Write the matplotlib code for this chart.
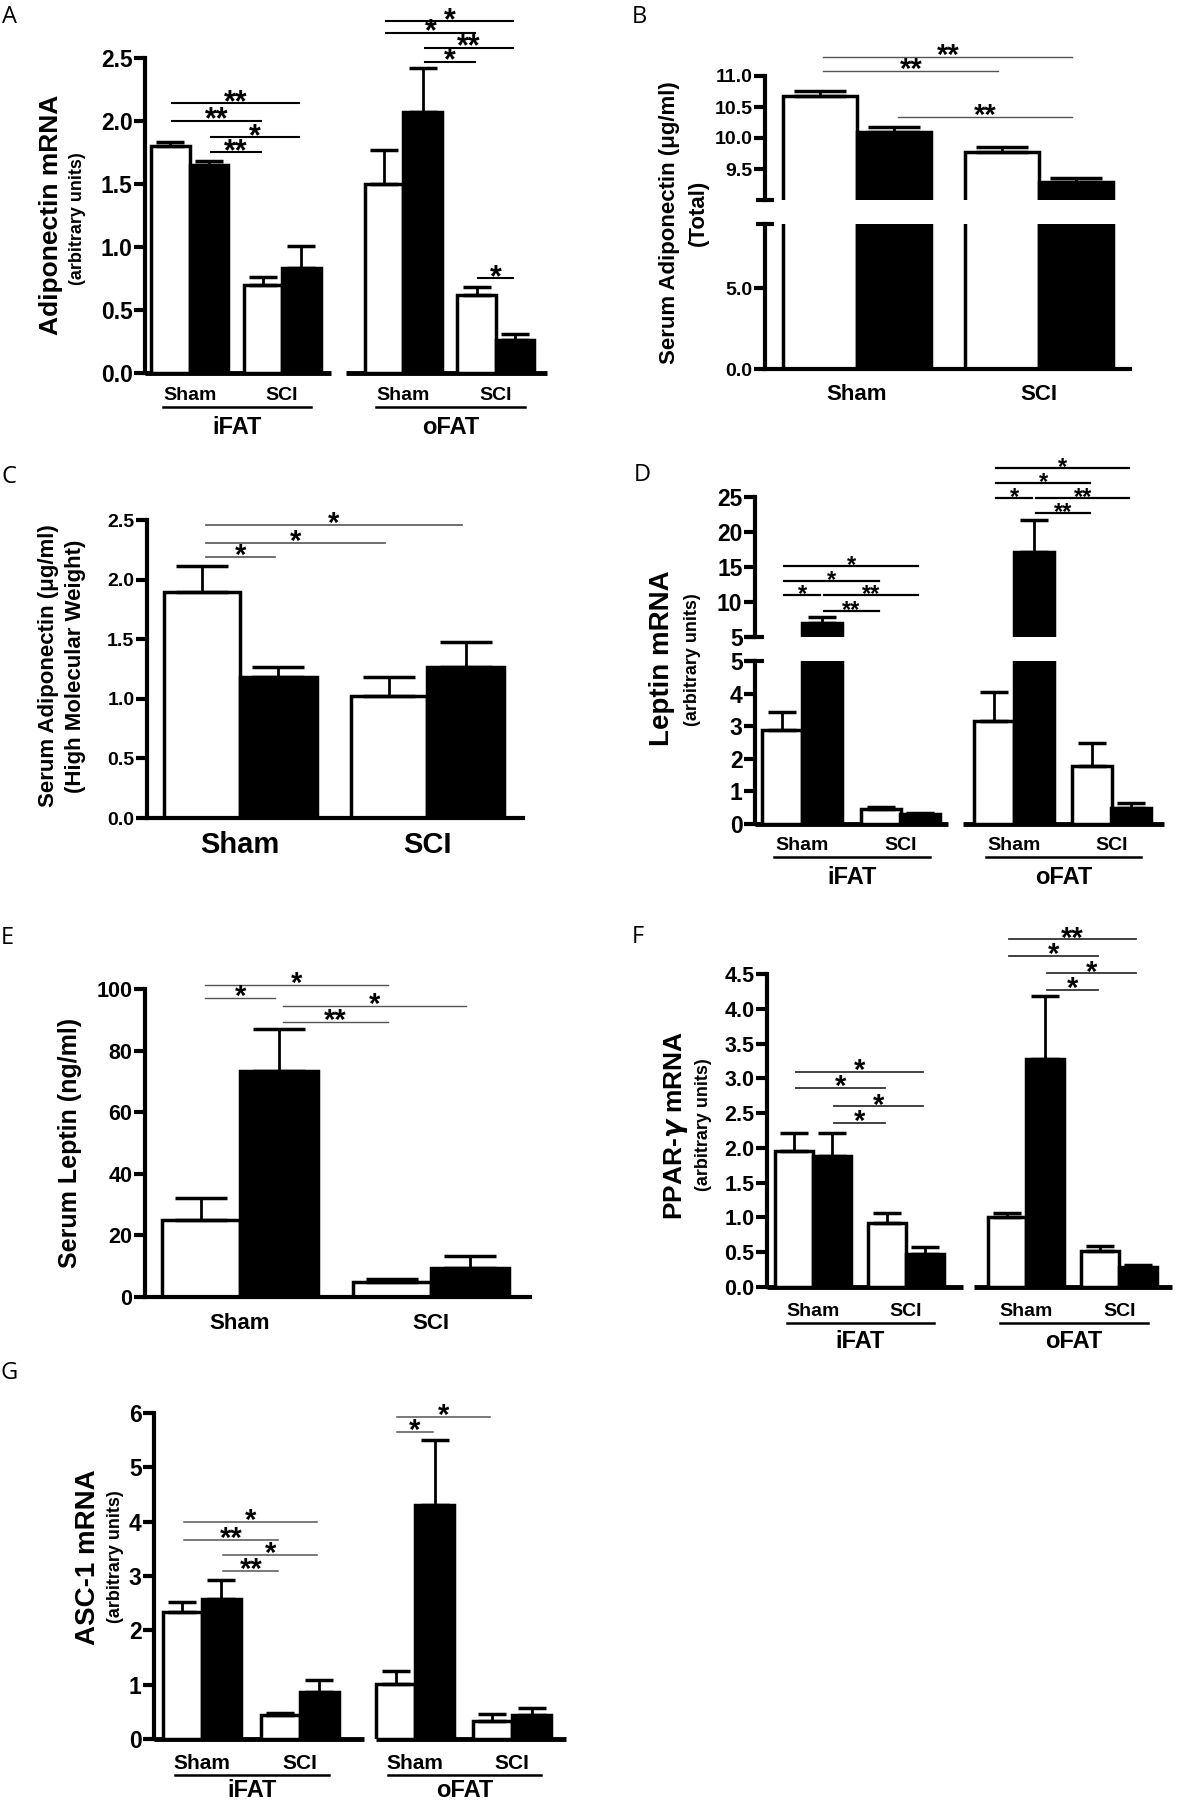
import numpy as np
import matplotlib.pyplot as plt
from matplotlib import transforms

plt.rcParams['font.family'] = ['Liberation Sans', 'DejaVu Sans']
plt.rcParams['font.weight'] = 'bold'
plt.rcParams['mathtext.fontset'] = 'dejavusans'

W, H = 1182, 1801

groups = ['Sham', 'SCI']
tissues = ['iFAT', 'oFAT']

# A: adiponectin mRNA (iFAT sham/sci, oFAT sham/sci; white, black)
a_mean = [1.80, 1.65, 0.70, 0.83, 1.50, 2.07, 0.62, 0.26]
a_top = [1.83, 1.68, 0.76, 1.01, 1.77, 2.42, 0.68, 0.31]
a_sig = [(0, 3, 2.14, '**'), (0, 2, 2.00, '**'), (1, 3, 1.87, '*'), (1, 2, 1.75, '**'),
         (4, 7, 2.79, '*'), (4, 6, 2.70, '*'), (5, 7, 2.58, '**'), (5, 6, 2.47, '*'),
         (6, 7, 0.75, '*')]

# B: serum adiponectin total
b_mean = [10.68, 10.10, 9.78, 9.29]
b_top = [10.75, 10.17, 9.86, 9.36]
b_sig = [(0, 3, 11.31, '**'), (0, 2, 11.08, '**'), (1, 3, 10.34, '**')]

# C: serum adiponectin HMW
c_mean = [1.90, 1.18, 1.02, 1.27]
c_top = [2.11, 1.27, 1.18, 1.48]
c_sig = [(0, 3, 2.46, '*'), (0, 2, 2.31, '*'), (0, 1, 2.19, '*')]

# D: leptin mRNA
d_mean = [2.88, 7.0, 0.46, 0.30, 3.16, 17.1, 1.78, 0.49]
d_top = [3.44, 7.86, 0.52, 0.34, 4.05, 21.7, 2.48, 0.64]
d_sig = [(0, 3, 15.1, '*'), (0, 2, 13.0, '*'), (0, 1, 11.0, '*'), (1, 3, 11.0, '**'),
         (1, 2, 8.7, '**'), (4, 7, 29.1, '*'), (4, 6, 27.0, '*'), (4, 5, 24.9, '*'),
         (5, 7, 24.9, '**'), (5, 6, 22.7, '**')]

# E: serum leptin
e_mean = [25.0, 73.4, 4.9, 9.4]
e_top = [32.2, 87.0, 5.7, 13.4]
e_sig = [(0, 2, 101.4, '*'), (0, 1, 97.1, '*'), (1, 3, 94.5, '*'), (1, 2, 89.3, '**')]

# F: PPAR-gamma mRNA
f_mean = [1.95, 1.89, 0.92, 0.47, 1.00, 3.28, 0.52, 0.29]
f_top = [2.21, 2.21, 1.06, 0.58, 1.07, 4.18, 0.59, 0.31]
f_sig = [(0, 3, 3.09, '*'), (0, 2, 2.86, '*'), (1, 3, 2.60, '*'), (1, 2, 2.36, '*'),
         (4, 7, 5.0, '**'), (4, 6, 4.76, '*'), (5, 7, 4.51, '*'), (5, 6, 4.27, '*')]

# G: ASC-1 mRNA
g_mean = [2.33, 2.58, 0.44, 0.87, 1.02, 4.31, 0.34, 0.45]
g_top = [2.53, 2.92, 0.47, 1.09, 1.25, 5.50, 0.46, 0.57]
g_sig = [(0, 3, 4.0, '*'), (0, 2, 3.67, '**'), (1, 3, 3.39, '*'), (1, 2, 3.09, '**'),
         (4, 6, 5.93, '*'), (4, 5, 5.65, '*')]

fig = plt.figure(figsize=(W / 100, H / 100), dpi=100)


def add_ax(left, top, right, bottom):
    return fig.add_axes([left / W, 1 - bottom / H, (right - left) / W, (bottom - top) / H])


def style(ax, xlim, ylim, ticks, fmt, fs, segments=None, bottom=True):
    ax.set_xlim(xlim)
    ax.set_ylim(ylim)
    ax.patch.set_visible(False)
    for s in ['top', 'right']:
        ax.spines[s].set_visible(False)
    ax.spines['left'].set_linewidth(3)
    ax.spines['bottom'].set_linewidth(3)
    ax.set_xticks([])
    ax.set_yticks(ticks)
    ax.set_yticklabels([fmt.format(t) for t in ticks])
    ax.tick_params(axis='y', length=8, width=3, pad=1, labelsize=fs)
    if segments or not bottom:
        ax.spines['bottom'].set_visible(False)
    if segments:
        for x0, x1 in segments:
            ax.plot([x0, x1], [ylim[0], ylim[0]], color='k', lw=3.5, clip_on=False,
                    solid_capstyle='butt')


def draw_bars(ax, pos, mean, top, cap):
    colors = ['white', 'black'] * (len(pos) // 2)
    ax.bar(pos, mean, width=1.0, color=colors, edgecolor='k', linewidth=2.5, zorder=2)
    up = np.array(top) - np.array(mean)
    ax.errorbar(pos, mean, yerr=[np.zeros(len(mean)), up], fmt='none', ecolor='k',
                elinewidth=2, capsize=cap, capthick=2.5, zorder=3)


def draw_sig(ax, pos, sig, fs, color, lw):
    for i, j, y, txt in sig:
        x0, x1 = pos[i] + 0.05, pos[j] - 0.05
        ax.plot([x0, x1], [y, y], color=color, lw=lw, clip_on=False)
        ax.annotate(txt, xy=((x0 + x1) / 2, y), xytext=(0, -0.25 * fs),
                    textcoords='offset points', ha='center', va='baseline',
                    fontsize=fs, fontweight='bold', annotation_clip=False)


def xlabels(ax, pos, y_px, fs, offset=0):
    tr = transforms.blended_transform_factory(ax.transData, fig.transFigure)
    for k, name in enumerate(groups):
        i = offset + 2 * k
        ax.text((pos[i] + pos[i + 1]) / 2, 1 - y_px / H, name, transform=tr,
                ha='center', va='center', fontsize=fs, fontweight='bold')


def tissue_labels(ax, pos, y_line, y_text, fs_grp, fs_tis):
    tr = transforms.blended_transform_factory(ax.transData, fig.transFigure)
    for k, name in enumerate(tissues):
        i = 4 * k
        xlabels(ax, pos, y_line - 12, fs_grp, offset=i)
        x0, x1 = pos[i] - 0.2, pos[i + 3] + 0.25
        ax.plot([x0, x1], [1 - y_line / H] * 2, transform=tr, color='k', lw=1.8,
                clip_on=False)
        ax.text((x0 + x1) / 2, 1 - y_text / H, name, transform=tr, ha='center',
                va='center', fontsize=fs_tis, fontweight='bold')


def ylabel(x, y, text, fs):
    fig.text(x / W, 1 - y / H, text, rotation=90, ha='center', va='center',
             fontsize=fs, fontweight='bold')


def letter(x, y, text):
    fig.text(x / W, 1 - y / H, text, ha='center', va='center', fontsize=17,
             fontweight='normal', family=['Open Sans', 'DejaVu Sans'])


def brk(ax, y):
    ax.plot([0], [y], marker='_', ms=13, mew=3, color='k', transform=ax.transAxes,
            clip_on=False)


# ---- A ----
pos8a = [0, 1, 2.4, 3.4, 5.55, 6.55, 7.95, 8.95]
ax = add_ax(145, 58, 547, 373)
style(ax, (-0.66, 9.78), (0, 2.5), np.arange(0, 2.51, 0.5), '{:.1f}', 16.5,
      segments=[(-0.66, 4.18), (4.57, 9.78)])
draw_bars(ax, pos8a, a_mean, a_top, 10)
draw_sig(ax, pos8a, a_sig, 22, 'k', 1.5)
tissue_labels(ax, pos8a, 407, 427, 14, 17)
ylabel(51, 215, 'Adiponectin mRNA', 19)
ylabel(77, 219, '(arbitrary units)', 13)
letter(9, 17, 'A')

# ---- B ----
pos4b = [0, 1, 2.46, 3.46]
axu = add_ax(765, 76, 1130, 200)
style(axu, (-0.74, 4.19), (9.0, 11.0), [9.5, 10.0, 10.5, 11.0], '{:.1f}', 14, bottom=False)
axl = add_ax(765, 224, 1130, 369)
style(axl, (-0.74, 4.19), (0, 9.0), [0.0, 5.0], '{:.1f}', 14)
for a in (axu, axl):
    draw_bars(a, pos4b, b_mean, b_top, 19)
brk(axu, 0)
brk(axl, 1)
draw_sig(axu, pos4b, b_sig, 21, '#555555', 1.0)
xlabels(axl, pos4b, 395, 16)
ylabel(670, 223, 'Serum Adiponectin (μg/ml)', 16)
ylabel(698, 213, '(Total)', 16)
letter(639, 17, 'B')

# ---- C ----
pos4c = [0, 1, 2.45, 3.45]
ax = add_ax(147, 520, 523, 818)
style(ax, (-0.72, 4.2), (0, 2.5), np.arange(0, 2.51, 0.5), '{:.1f}', 14)
draw_bars(ax, pos4c, c_mean, c_top, 19)
draw_sig(ax, pos4c, c_sig, 21, '#555555', 1.2)
xlabels(ax, pos4c, 845, 21)
ylabel(49, 666, 'Serum Adiponectin (μg/ml)', 16)
ylabel(75, 666, '(High Molecular Weight)', 16)
letter(9, 477, 'C')

# ---- D ----
pos8d = [0, 1, 2.46, 3.45, 5.3, 6.3, 7.75, 8.73]
axu = add_ax(755, 497, 1164, 637)
style(axu, (-0.68, 9.55), (5, 25), [5, 10, 15, 20, 25], '{:d}', 16.5, bottom=False)
axl = add_ax(755, 661, 1164, 824)
style(axl, (-0.68, 9.55), (0, 5), [0, 1, 2, 3, 4, 5], '{:d}', 16.5,
      segments=[(-0.68, 4.15), (4.53, 9.55)])
for a in (axu, axl):
    draw_bars(a, pos8d, d_mean, d_top, 10)
brk(axu, 0)
brk(axl, 1)
draw_sig(axu, pos8d, d_sig, 17, 'k', 1.6)
tissue_labels(axl, pos8d, 857, 877, 14, 17)
ylabel(662, 658, 'Leptin mRNA', 20)
ylabel(692, 660, '(arbitrary units)', 13)
letter(642, 475, 'D')

# ---- E ----
pos4e = [0, 1, 2.45, 3.45]
ax = add_ax(145, 989, 530, 1297)
style(ax, (-0.72, 4.22), (0, 100), [0, 20, 40, 60, 80, 100], '{:d}', 15.5)
draw_bars(ax, pos4e, e_mean, e_top, 19)
draw_sig(ax, pos4e, e_sig, 21, '#555555', 1.0)
xlabels(ax, pos4e, 1323, 16)
ylabel(70, 1143, 'Serum Leptin (ng/ml)', 18)
letter(7, 938, 'E')

# ---- F ----
pos8f = [0, 1, 2.43, 3.43, 5.6, 6.6, 8.05, 9.05]
ax = add_ax(767, 974, 1172, 1287)
style(ax, (-0.72, 9.94), (0, 4.5), np.arange(0, 4.51, 0.5), '{:.1f}', 15.5,
      segments=[(-0.72, 4.43), (4.72, 9.94)])
draw_bars(ax, pos8f, f_mean, f_top, 10)
draw_sig(ax, pos8f, f_sig, 21, '#333333', 1.3)
tissue_labels(ax, pos8f, 1323, 1341, 14, 17)
ylabel(676, 1125, r'PPAR-$\gamma$ mRNA', 19)
ylabel(703, 1125, '(arbitrary units)', 13)
letter(638, 937, 'F')

# ---- G ----
pos8g = [0, 1, 2.5, 3.5, 5.46, 6.46, 7.94, 8.95]
ax = add_ax(154, 1413, 566, 1739)
style(ax, (-0.73, 9.83), (0, 6), [0, 1, 2, 3, 4, 5, 6], '{:d}', 16.5,
      segments=[(-0.73, 4.65), (4.96, 9.83)])
draw_bars(ax, pos8g, g_mean, g_top, 10)
draw_sig(ax, pos8g, g_sig, 21, '#555555', 1.1)
tissue_labels(ax, pos8g, 1775, 1790, 15, 17)
ylabel(88, 1557, 'ASC-1 mRNA', 20)
ylabel(115, 1557, '(arbitrary units)', 13)
letter(9, 1373, 'G')

fig.savefig('out.png', dpi=100)
